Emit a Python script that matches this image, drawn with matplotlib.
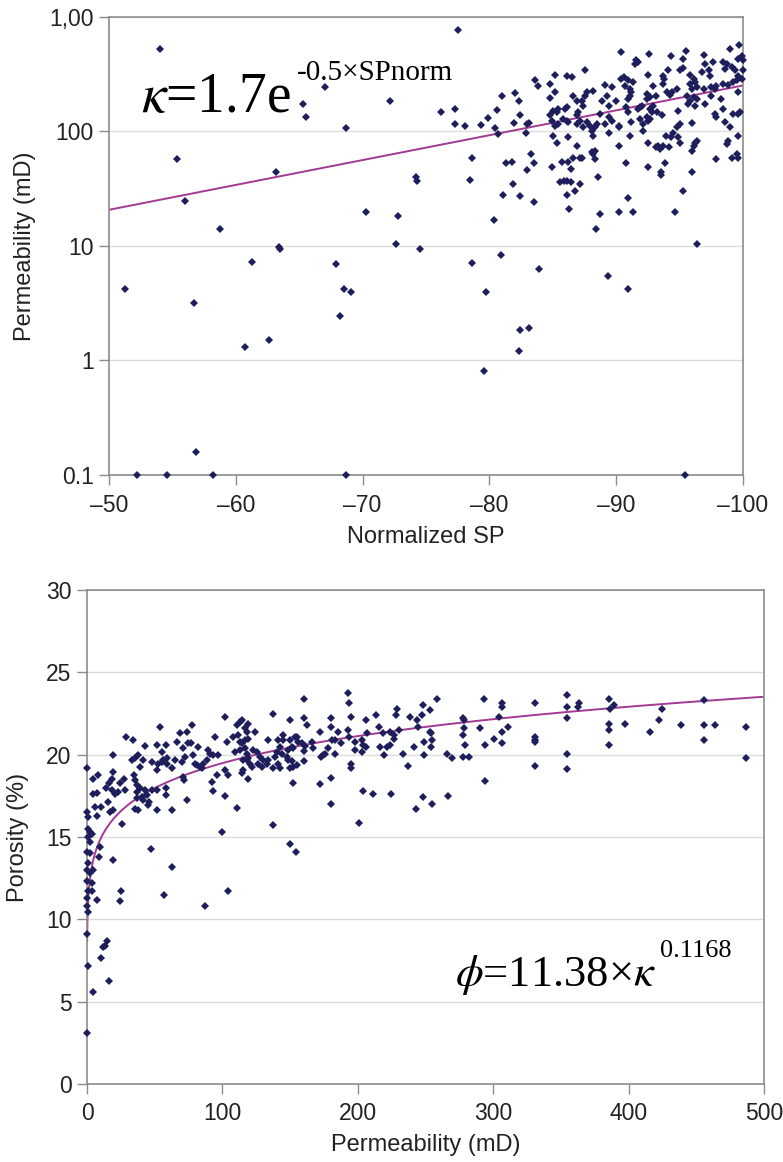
import numpy as np
import matplotlib
matplotlib.use('Agg')
import matplotlib.pyplot as plt
from matplotlib.ticker import FixedLocator, FixedFormatter, NullLocator

# ---------------- Data: top panel (Normalized SP vs permeability) ----------------
top_points = [
    (-54.0, 528), (-55.4, 58), (-56.0, 24.5), (-58.75, 14.2), (-63.2, 44), (-63.4, 9.85), (-63.5, 9.4),
    (-65.3, 175), (-65.5, 133), (-67.0, 247), (-68.7, 107), (-70.3, 19.9), (-72.2, 184), (-72.8, 18.3),
    (-72.6, 10.4), (-74.2, 40), (-74.3, 37),
    (-51.3, 4.2), (-52.2, 0.1), (-54.55, 0.1), (-56.7, 3.2), (-56.9, 0.16), (-58.2, 0.1), (-60.7, 1.32),
    (-61.3, 7.3), (-62.6, 1.52), (-67.9, 7.0), (-68.2, 2.43), (-68.5, 4.2), (-69.1, 3.96), (-68.7, 0.1),
    (-74.5, 9.4),
    (-78.65, 7.1), (-80.9, 8.4), (-79.7, 4.0), (-79.6, 0.81), (-82.4, 1.83), (-83.1, 1.92), (-82.3, 1.22),
    (-83.9, 6.3), (-89.35, 5.5), (-90.9, 4.2), (-96.35, 10.4), (-95.45, 0.1),
    (-77.55, 764), (-90.4, 493), (-92.6, 477), (-91.6, 417), (-91.75, 404), (-91.5, 390), (-94.3, 461),
    (-95.5, 500), (-95.3, 432), (-96.9, 467), (-97.6, 408), (-97.0, 390), (-99.0, 527), (-99.7, 571),
    (-99.9, 461), (-99.6, 431), (-100.0, 417), (-98.45, 403), (-98.7, 390), (-98.6, 352), (-99.1, 365),
    (-99.4, 341), (-99.6, 308), (-99.9, 288), (-99.5, 279), (-99.97, 341), (-97.3, 341), (-97.4, 308),
    (-96.75, 330), (-95.0, 341), (-95.3, 357), (-94.1, 341), (-93.7, 308), (-93.8, 288),
    (-95.8, 313), (-96.1, 288), (-96.2, 269), (-95.8, 261), (-96.35, 244), (-95.95, 236), (-95.6, 206),
    (-96.1, 200), (-95.8, 186), (-96.35, 193), (-95.7, 174), (-96.2, 168),
    (-96.9, 236), (-97.5, 244), (-97.8, 236), (-97.9, 252), (-98.45, 261), (-98.85, 255), (-99.25, 269),
    (-99.6, 223), (-97.45, 206), (-98.3, 193), (-97.0, 174),
    (-97.8, 142), (-97.9, 133), (-98.45, 157), (-99.25, 142), (-99.6, 142), (-99.8, 147), (-98.6, 120),
    (-99.0, 109), (-99.6, 92), (-98.85, 83), (-98.7, 78), (-99.5, 64), (-99.1, 59), (-99.6, 59),
    (-97.9, 57), (-96.0, 44), (-95.3, 30), (-94.6, 20),
    (-96.35, 83), (-96.1, 75), (-95.95, 68), (-96.2, 80), (-95.95, 119),
    (-94.9, 152), (-95.0, 116), (-94.8, 109), (-94.5, 98), (-94.9, 89), (-95.0, 80), (-94.3, 89),
    (-94.2, 73), (-93.9, 92), (-93.7, 75), (-93.45, 70), (-93.3, 75), (-93.1, 73), (-92.5, 79),
    (-93.85, 53), (-93.5, 44), (-93.55, 42), (-92.5, 49),
    (-94.8, 236), (-94.4, 223), (-94.0, 220), (-94.25, 209),
    (-92.9, 252), (-92.4, 213), (-92.7, 200), (-93.1, 206), (-92.4, 193), (-92.9, 168), (-92.7, 157),
    (-93.2, 147), (-93.6, 138), (-92.8, 147), (-92.4, 133), (-92.5, 124), (-92.15, 116), (-92.7, 129),
    (-92.5, 313), (-93.7, 261), (-91.9, 163), (-91.75, 157), (-92.0, 168), (-91.9, 129), (-92.15, 102),
    (-91.2, 120),
    (-90.95, 193), (-91.1, 206), (-91.2, 220), (-90.7, 252), (-90.95, 279), (-90.4, 288), (-90.6, 298),
    (-91.35, 269), (-91.1, 236), (-90.8, 163), (-90.95, 147), (-91.05, 92), (-90.2, 110),
    (-89.65, 244), (-89.1, 255), (-90.0, 186), (-89.4, 168), (-89.25, 206), (-88.9, 186), (-88.7, 142),
    (-89.4, 133), (-89.65, 124), (-89.1, 116), (-90.2, 112), (-89.4, 98), (-90.2, 75), (-90.8, 53),
    (-88.2, 228), (-87.7, 220), (-87.55, 206), (-87.3, 186), (-87.4, 168), (-87.0, 147), (-86.9, 138),
    (-87.15, 124), (-86.9, 116), (-87.4, 109), (-87.7, 120), (-87.9, 112), (-88.1, 102), (-88.2, 92),
    (-88.3, 109), (-88.5, 116),
    (-87.55, 341), (-88.2, 64), (-88.1, 66), (-88.3, 68), (-88.3, 57), (-88.6, 40), (-88.7, 19), (-88.4, 14),
    (-86.9, 75), (-87.15, 59), (-87.3, 59), (-86.6, 59), (-86.2, 54), (-86.4, 47), (-86.4, 36), (-86.1, 37),
    (-85.85, 37), (-85.6, 36), (-87.15, 35), (-85.7, 54), (-84.9, 49), (-86.1, 28), (-86.75, 30), (-86.3, 21),
    (-85.3, 147), (-85.4, 157), (-85.05, 152), (-84.8, 138), (-84.9, 124), (-85.4, 116), (-86.1, 124),
    (-86.2, 120), (-85.8, 129), (-85.2, 112), (-85.05, 92), (-85.3, 80), (-86.2, 89),
    (-84.8, 261), (-85.2, 220), (-84.8, 195), (-85.2, 313), (-86.1, 304), (-86.5, 298), (-86.6, 206),
    (-86.9, 186), (-86.1, 163), (-86.0, 157),
    (-83.6, 284), (-83.8, 249), (-82.95, 116), (-83.1, 119), (-82.9, 98), (-82.4, 140), (-82.0, 217),
    (-82.3, 186), (-81.97, 119), (-80.97, 206), (-80.6, 155), (-80.45, 107), (-80.65, 95), (-79.9, 130),
    (-79.3, 114), (-78.1, 112), (-77.3, 116), (-77.3, 157), (-76.2, 149), (-78.6, 59), (-78.5, 38),
    (-81.3, 53), (-81.8, 54), (-81.9, 35), (-81.1, 28), (-82.4, 27.5), (-80.4, 17), (-83.3, 64),
    (-83.55, 53), (-82.95, 46), (-83.5, 24),
    (-90.2, 20), (-91.3, 20), (-90.9, 26),
]
sp_norm = [p[0] for p in top_points]
perm_sp = [p[1] for p in top_points]

# ---------------- Data: bottom panel (permeability vs porosity) ----------------
bottom_points = [
    (0.25, 19.2), (0.2, 16.53), (1.0, 16.23), (1.0, 15.5), (2.2, 15.3), (3.4, 15.2), (1.0, 15.0), (2.2, 14.7),
    (0.2, 14.1), (2.2, 14.0), (1.0, 13.4), (0.2, 13.0), (2.2, 12.8), (0.2, 12.3), (3.4, 12.2), (1.0, 11.7),
    (0.2, 11.3), (0.2, 10.8), (4.7, 13.0), (3.9, 11.7), (7.6, 11.2), (9.6, 14.4), (9.1, 13.8),
    (4.7, 18.55), (8.4, 18.76), (4.7, 17.64), (7.1, 17.68), (5.9, 16.83), (7.1, 16.27), (10.1, 16.83),
    (14, 17.99), (16.5, 18.29), (19.5, 18.96), (18.2, 18.55), (18.2, 17.85), (20.7, 17.64), (23.2, 17.74),
    (24.4, 18.25), (27.3, 18.55), (28.1, 17.85), (19.5, 19.97),
    (17, 16.53), (19.5, 16.63), (15.8, 17.14), (25.6, 15.8), (19.5, 13.6), (24.9, 11.7), (24.4, 11.1),
    (47, 14.3), (62.6, 13.2), (57, 11.5), (104, 11.7), (87, 10.8), (99.5, 15.3), (137.7, 15.7), (150, 14.6),
    (154, 14.1),
    (28.8, 21.1), (33.7, 20.9), (33, 19.7), (35.5, 19.8), (37.9, 20.0), (41.1, 19.7),
    (34.7, 18.76), (35.5, 18.45), (36.7, 18.15), (39.2, 17.95), (37.2, 17.74), (36.7, 17.34), (35.5, 16.73),
    (37.9, 16.63),
    (39.2, 19.26), (42.9, 20.5), (40.4, 17.44), (45.3, 16.93), (42.9, 17.85), (41.1, 17.24), (47.8, 17.85),
    (44.6, 17.54), (46, 17.14),
    (47.8, 19.57), (51.5, 20.58), (53.9, 21.69), (55.2, 19.57), (51.5, 19.06), (52.7, 19.46), (56.4, 19.67),
    (58.4, 20.58), (58.9, 19.46), (55.2, 20.17), (58.9, 19.77),
    (51.5, 17.85), (51.9, 16.67), (58.4, 17.95), (58.4, 17.54), (62.6, 16.63),
    (62.6, 19.16), (65, 19.67), (66.3, 20.78), (68.7, 21.29), (70, 19.57), (71.2, 20.38), (72.4, 19.87),
    (73.6, 21.39), (74.9, 20.68), (77.3, 21.79), (76.6, 20.68),
    (71.2, 18.66), (71.7, 18.45), (73.6, 17.24),
    (78.6, 19.97), (79.8, 19.46), (81, 19.36), (82.3, 20.48), (83.5, 19.26), (84.7, 19.16),
    (86, 19.46), (88.4, 19.67), (89.7, 20.28), (90.9, 20.07), (92.9, 19.97), (94.6, 21.08), (97, 19.97),
    (95.8, 18.76), (92, 18.35), (93, 17.79),
    (102, 22.3), (103.2, 20.78), (102, 19.06), (104.4, 18.76), (102, 17.5), (108, 21.08), (109.4, 20.17),
    (111, 16.77),
    (110.6, 21.79), (113, 21.99), (114.3, 22.1), (116.7, 21.59), (119.2, 21.89), (118, 21.39), (111.8, 21.19),
    (113, 20.78), (116.7, 20.88), (119.2, 20.98), (114.3, 20.68), (116.7, 20.38), (118, 20.07), (115.5, 19.67),
    (119.2, 19.77), (120.4, 19.46), (114.3, 18.86), (115.5, 19.06), (119.2, 18.55), (113, 20.28), (118, 19.67),
    (121.7, 19.26), (124.1, 21.39), (122.4, 20.28), (125.4, 20.17), (127.8, 19.87), (126.6, 19.46),
    (129.1, 19.26), (130.3, 19.67), (132.8, 19.46),
    (134, 20.88), (137.7, 22.5), (134, 19.67), (138.9, 19.87), (137.7, 19.16), (140.1, 20.17), (141.4, 20.88),
    (142.6, 20.48), (141.4, 19.46), (143.8, 20.07), (142.6, 19.16), (145.1, 21.19), (145.1, 20.88),
    (147.5, 19.87), (148.8, 20.28), (150, 22.1), (151.2, 20.48), (150, 20.88), (152.5, 20.38), (153.7, 21.08),
    (152.5, 19.26), (154.9, 19.36), (156.2, 20.78), (150, 19.16), (151.2, 19.61), (148.8, 19.67),
    (154.9, 21.08), (152.5, 18.25),
    (160.4, 23.41), (160.4, 22.2), (162.3, 21.79), (158.6, 20.68), (161.1, 20.52), (160.4, 20.23),
    (159.9, 19.63), (166, 20.78), (166.8, 20.38),
    (172.2, 21.39), (172.7, 19.87), (174.6, 19.97), (175.9, 20.07), (172.2, 18.19), (178.3, 20.38),
    (180.1, 22.2), (180.1, 21.69), (180.8, 20.88), (183.3, 20.88), (183.3, 20.07), (180.1, 18.59),
    (180.1, 16.99), (185.7, 21.39), (187.4, 20.68),
    (193.1, 23.72), (193.6, 23.11), (195.1, 22.3), (193.1, 21.49), (193.6, 21.08), (195.1, 19.42),
    (195.1, 19.16), (198, 20.78), (198, 20.31), (201.2, 15.86), (203, 20.88), (203, 20.17), (204.2, 20.58),
    (203.5, 17.8), (206.2, 22.1), (206.7, 21.29), (206.2, 20.48), (211.1, 17.6), (213.6, 22.4),
    (216, 21.69), (218.5, 21.29), (216.5, 20.48), (219.7, 19.97), (221.9, 20.48), (223.9, 20.58),
    (223.9, 21.39), (226.4, 21.19), (226.9, 20.98), (228.3, 22.4), (228.8, 22.8), (230.3, 21.49),
    (224.4, 17.6), (233.3, 20.07), (237.4, 19.3), (238.7, 22.3), (241.6, 20.48), (243.6, 22.1),
    (244.1, 21.69), (243.1, 16.73), (247.3, 22.4), (248.5, 23.0), (248, 17.4), (249, 20.78), (249, 19.97),
    (253.5, 22.7), (253.5, 21.39), (254, 21.29), (254.7, 20.88), (254, 20.48), (254.7, 16.99), (258.4, 23.41),
    (265.8, 20.07), (269.5, 19.77), (266.3, 17.48), (277.6, 22.2), (278.1, 22.1), (278.1, 21.59),
    (277.6, 21.19), (279.3, 20.58), (277.6, 19.87), (281.8, 19.87), (290.4, 21.59), (293.4, 23.41),
    (294.3, 20.58), (294.3, 18.39), (300.3, 20.98), (304.4, 22.3), (306.4, 23.11), (306.4, 22.9),
    (306.4, 21.39), (306.4, 20.68), (310.6, 21.69),
    (330.6, 23.11), (330.6, 21.08), (330.6, 20.88), (330.6, 20.78), (330.6, 19.3), (354.4, 23.6),
    (354.4, 22.9), (354.4, 22.2), (354.4, 20.07), (354.4, 19.1), (363.1, 23.11), (362.3, 22.9),
    (385.7, 23.41), (386, 22.8), (389, 23.0), (385.7, 21.89), (385.7, 21.49), (385.7, 20.58), (397.5, 21.89),
    (415.5, 21.39), (422.7, 22.1), (424.6, 22.8), (438.7, 21.79), (455.4, 23.31), (455.4, 21.79),
    (455.4, 20.88), (463.6, 21.79), (486.7, 21.69), (486.7, 19.77),
    (1.0, 10.47), (0.25, 9.09), (0.5, 7.17), (4.2, 5.57), (0.25, 3.08), (10.1, 7.67), (12.1, 8.34),
    (13.3, 8.38), (14.5, 8.69), (16.5, 6.28),
]
perm_phi = [p[0] for p in bottom_points]
porosity = [p[1] for p in bottom_points]

# Fit coefficients (from the equations on the chart)
top_fit_a, top_fit_b = 1.7, 0.05
bot_fit_a, bot_fit_b = 11.38, 0.1168

top_yticks = [0.1, 1, 10, 100, 1000]
top_yticklabels = ["0.1", "1", "10", "100", "1,00"]
top_xticks = [-50, -60, -70, -80, -90, -100]
top_xticklabels = ["\u201350", "\u201360", "\u201370", "\u201380", "\u201390", "\u2013100"]
bot_xticks = [0, 100, 200, 300, 400, 500]
bot_yticks = [0, 5, 10, 15, 20, 25, 30]

# ---------------- Styling ----------------
plt.rcParams['font.family'] = ['Liberation Sans', 'DejaVu Sans']
plt.rcParams['mathtext.fontset'] = 'stix'

W, H = 783, 1162
fig = plt.figure(figsize=(W / 100, H / 100), dpi=100)

marker_color = '#1e1e5c'
line_color = '#a23a93'
spine_color = '#8c8c8c'
grid_color = '#dcdcdc'
text_color = '#222222'
tick_fs = 16.5
label_fs = 17


def style_axes(ax):
    for s in ax.spines.values():
        s.set_color(spine_color)
        s.set_linewidth(1.2)
    ax.tick_params(axis='both', direction='out', length=7, width=1, color=spine_color,
                   labelsize=tick_fs, labelcolor=text_color)
    ax.tick_params(axis='x', pad=7)
    ax.tick_params(axis='y', pad=4)
    ax.grid(axis='y', color=grid_color, linewidth=1)
    ax.set_axisbelow(True)


# ---------------- Top panel ----------------
ax1 = fig.add_axes([109 / W, 1 - 475 / H, 634 / W, 458 / H])
ax1.set_yscale('log')
ax1.set_xlim(-50, -100)
ax1.set_ylim(0.1, 1000)
style_axes(ax1)
ax1.yaxis.set_major_locator(FixedLocator(top_yticks))
ax1.yaxis.set_major_formatter(FixedFormatter(top_yticklabels))
ax1.yaxis.set_minor_locator(NullLocator())
ax1.xaxis.set_major_locator(FixedLocator(top_xticks))
ax1.xaxis.set_major_formatter(FixedFormatter(top_xticklabels))

sp_line = np.linspace(-50, -100, 200)
ax1.plot(sp_line, top_fit_a * np.exp(-top_fit_b * sp_line), color=line_color, lw=1.4, zorder=2)
ax1.plot(sp_norm, perm_sp, linestyle='none', marker='D', ms=4.2, mew=0,
         color=marker_color, zorder=3, clip_on=False)

ax1.set_xlabel('Normalized SP', fontsize=label_fs, color=text_color, va='center')
ax1.xaxis.set_label_coords(0.5, (475 - 537) / 458)
ax1.set_ylabel('Permeability (mD)', fontsize=label_fs, color=text_color, va='center')
ax1.yaxis.set_label_coords((25 - 109) / 634, 0.5)

fig.text(141 / W, 1 - 112 / H, '$\\kappa$=1.7e', fontsize=40, family='Liberation Serif',
         va='baseline', ha='left', color='black')
fig.text(297 / W, 1 - 80 / H, '-0.5\u00d7SPnorm', fontsize=21, family='Liberation Serif',
         va='baseline', ha='left', color='black')

# ---------------- Bottom panel ----------------
ax2 = fig.add_axes([87 / W, 1 - 1084 / H, 677 / W, 494 / H])
ax2.set_xlim(0, 500)
ax2.set_ylim(0, 30)
style_axes(ax2)
ax2.xaxis.set_major_locator(FixedLocator(bot_xticks))
ax2.yaxis.set_major_locator(FixedLocator(bot_yticks))
ax2.tick_params(axis='x', pad=6)

k_line = np.geomspace(0.1, 500, 500)
ax2.plot(k_line, bot_fit_a * k_line ** bot_fit_b, color=line_color, lw=1.4, zorder=2)
ax2.plot(perm_phi, porosity, linestyle='none', marker='D', ms=4.2, mew=0,
         color=marker_color, zorder=3, clip_on=False)

ax2.set_xlabel('Permeability (mD)', fontsize=label_fs, color=text_color, va='center')
ax2.xaxis.set_label_coords(0.5, (1084 - 1145) / 494)
ax2.set_ylabel('Porosity (%)', fontsize=label_fs, color=text_color, va='center')
ax2.yaxis.set_label_coords((18 - 87) / 677, 0.5)

fig.text(455 / W, 1 - 986 / H, '$\\phi$=11.38\u00d7$\\kappa$', fontsize=32, family='Liberation Serif',
         va='baseline', ha='left', color='black')
fig.text(660 / W, 1 - 957 / H, '0.1168', fontsize=19, family='Liberation Serif',
         va='baseline', ha='left', color='black')

fig.savefig('out.png', dpi=100, facecolor='white')
